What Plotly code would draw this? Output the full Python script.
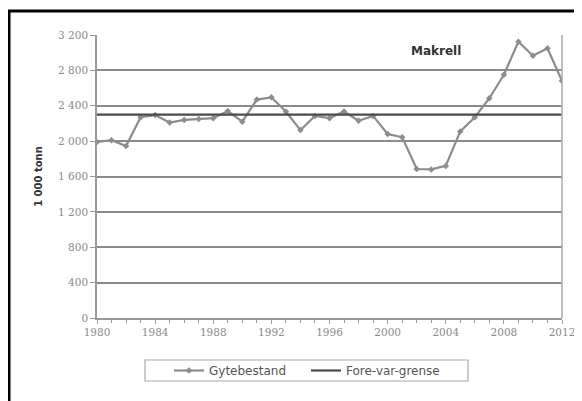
import plotly.graph_objects as go

years = list(range(1980, 2013))
gytebestand = [1990, 2010, 1945, 2270, 2295, 2210, 2240, 2250, 2260, 2340, 2220,
               2470, 2495, 2335, 2125, 2285, 2260, 2335, 2230, 2285, 2080, 2045,
               1685, 1680, 1720, 2110, 2270, 2485, 2750, 3125, 2965, 3050, 2680]
fore_var_grense = [2300] * len(years)
y_ticks = [0, 400, 800, 1200, 1600, 2000, 2400, 2800, 3200]
x_ticks = list(range(1980, 2013, 4))

fig = go.Figure()
fig.add_trace(go.Scatter(
    x=years, y=gytebestand, name="Gytebestand", mode="lines+markers",
    line=dict(color="#8c8c8c", width=2.2),
    marker=dict(symbol="diamond", size=5, color="#8c8c8c"),
))
fig.add_trace(go.Scatter(
    x=years, y=fore_var_grense, name="Fore-var-grense", mode="lines",
    line=dict(color="#4a4a4a", width=2.2),
))

fig.add_annotation(text="<b>Makrell</b>", x=2003.3, y=3020, xref="x", yref="y",
                   showarrow=False, font=dict(family="DejaVu Sans", size=12, color="#333333"))

# plot area in figure pixels
L, R, T, B = 89, 554, 27, 310
PW, PH = R - L, B - T

def px(x):
    return (x - L) / PW

def py(y):
    return (B - y) / PH

# outer frame
fig.add_shape(type="rect", xref="paper", yref="paper",
              x0=px(1), x1=px(640), y0=py(460), y1=py(3),
              line=dict(color="black", width=3), layer="below")

# legend box
fig.add_shape(type="rect", xref="paper", yref="paper",
              x0=px(137), x1=px(460), y0=py(373), y1=py(352),
              line=dict(color="#aaaaaa", width=1.2), layer="below")

fig.update_layout(
    width=582, height=401,
    margin=dict(l=L, r=582 - R, t=T, b=401 - B),
    paper_bgcolor="white", plot_bgcolor="white",
    separators=", ",
    showlegend=True,
    legend=dict(orientation="h", x=px(298), xanchor="center", y=py(362.5), yanchor="middle",
                bgcolor="rgba(0,0,0,0)", borderwidth=0,
                font=dict(family="DejaVu Sans", size=12, color="#555555"),
                itemwidth=30, entrywidth=92),
    xaxis=dict(range=[1980, 2012], tickvals=x_ticks, showgrid=False,
               showline=True, linecolor="#999999", linewidth=1.5, mirror=False,
               ticks="outside", ticklen=4, tickcolor="#999999",
               minor=dict(dtick=1, ticks="outside", ticklen=3, tickcolor="#999999"),
               tickfont=dict(family="DejaVu Serif", size=10.5, color="#8a8a8a"),
               zeroline=False),
    yaxis=dict(range=[0, 3200], tickvals=y_ticks, tickformat=",",
               showgrid=True, gridcolor="#8a8a8a", gridwidth=2,
               showline=True, linecolor="#999999", linewidth=1.5,
               ticks="outside", ticklen=5, tickcolor="#999999",
               tickfont=dict(family="DejaVu Serif", size=10.5, color="#8a8a8a"),
               title=dict(text="<b>1 000 tonn</b>", standoff=14,
                          font=dict(family="DejaVu Sans", size=10, color="#333333")),
               zeroline=False),
)

# right border of plot area
fig.add_shape(type="line", xref="paper", yref="paper", x0=1, x1=1, y0=0, y1=1,
              line=dict(color="#aaaaaa", width=1.5))

fig.write_html("out.html")
